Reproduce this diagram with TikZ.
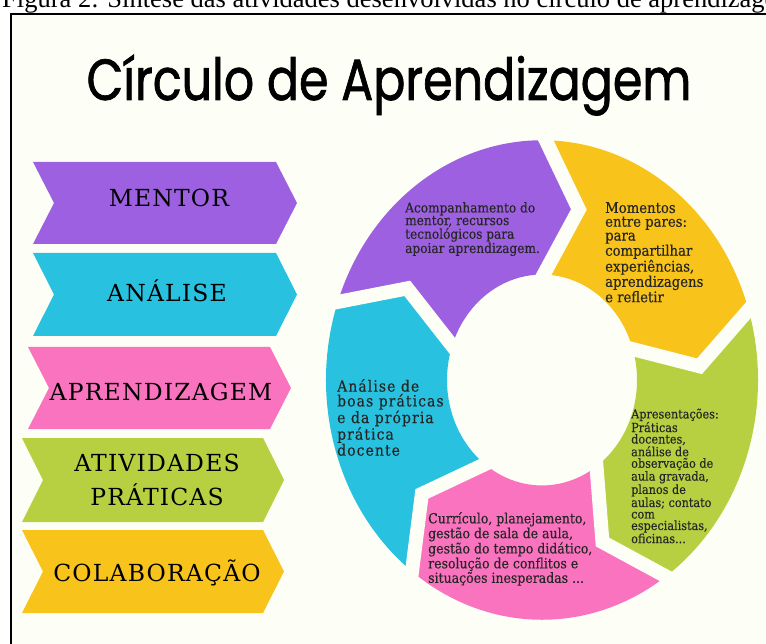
\documentclass[tikz,border=0pt]{standalone}
\usepackage{fontspec}
\usepackage{tikz}
\usetikzlibrary{calc}
\newfontfamily\captionfont{Liberation Serif}
\newfontfamily\titlefont[FakeStretch=0.82, FakeBold=1.2]{Poppins}
\newfontfamily\bandfont[LetterSpace=5]{DejaVu Serif}
\newfontfamily\ringfont[FakeStretch=0.9, FakeBold=0.3]{DejaVu Serif}
\definecolor{paper}{HTML}{FDFEF6}
\definecolor{mentorc}{HTML}{9D60E1}
\definecolor{analisec}{HTML}{28C1DF}
\definecolor{aprendc}{HTML}{FA73BF}
\definecolor{ativc}{HTML}{B6D042}
\definecolor{colabc}{HTML}{F8C31A}
\definecolor{inkc}{HTML}{262626}
\newcommand{\OuterR}{216}
\newcommand{\InnerR}{95}
\newcommand{\MidR}{158}

\begin{document}
\begin{tikzpicture}[x=1pt, y=-1pt,
    band/.style = {anchor = base, inner sep = 0pt, font = \bandfont\fontsize{23.5}{34}\selectfont, align = center},
    ringtext/.style = {anchor = north west, inner sep = 0pt, align = left, text = inkc},
    gapline/.style = {draw = paper, line width = 14pt, line join = miter}]
    \useasboundingbox (0, 0) rectangle (766, 644);
    \clip (0, 0) rectangle (766, 644);

    % page and frame
    \fill[white] (0, 0) rectangle (766, 644);
    \fill[paper] (11, 14) rectangle (790, 670);
    \draw[line width = 2pt] (11, 670) -- (11, 14) -- (790, 14);

    % caption and title
    \node[anchor = base west, inner sep = 0pt, font = \captionfont\fontsize{26.5}{30}\selectfont] (caption) at (2, 8)
        {Figura 2: Síntese das atividades desenvolvidas no círculo de aprendizagem};
    \node[anchor = base, inner sep = 0pt, font = \titlefont\fontsize{58}{66}\selectfont] (title) at (389, 100)
        {Círculo de Aprendizagem};

    % draw left bands
    \fill[mentorc] (33, 162) -- (276, 162) -- (297, 203) -- (276, 244) -- (33, 244) -- (54, 203) -- cycle;
    \fill[analisec] (33, 253) -- (276, 253) -- (297, 294.5) -- (276, 336) -- (33, 336) -- (54, 294.5) -- cycle;
    \fill[aprendc] (28, 347) -- (270, 347) -- (291, 388) -- (270, 429) -- (28, 429) -- (49, 388) -- cycle;
    \fill[ativc] (22, 438) -- (263, 438) -- (284, 480) -- (263, 522) -- (22, 522) -- (43, 480) -- cycle;
    \fill[colabc] (22, 530) -- (263, 530) -- (284, 571.5) -- (263, 613) -- (22, 613) -- (43, 571.5) -- cycle;

    \node[band] (mentor) at (169, 207) {MENTOR};
    \node[band] (analise) at (167, 302) {ANÁLISE};
    \node[band] (aprend) at (161, 400) {APRENDIZAGEM};
    \node[band, anchor = center] (ativ) at (157, 480) {ATIVIDADES\\PRÁTICAS};
    \node[band] (colab) at (157, 581) {COLABORAÇÃO};

    % draw ring parts
    \begin{scope}[shift = {(542, 380)}, y = 1pt, yscale = 1.11]
        \foreach \from/\to/\col in {161/89/mentorc, 89/17/colabc, 17/-55/ativc, -55/-127/aprendc, 233/161/analisec}
            \fill[\col] (\from:\OuterR) arc[start angle = \from, end angle = \to, radius = \OuterR]
                -- (\to-12.5:\MidR) -- (\to:\InnerR)
                arc[start angle = \to, end angle = \from, radius = \InnerR]
                -- (\from-12.5:\MidR) -- cycle;
        \foreach \b in {161, 89, 17, -55, -127}
            \draw[gapline] ($(\b-12.5:\MidR)!1.35!(\b:\OuterR)$) -- (\b-12.5:\MidR)
                -- ($(\b-12.5:\MidR)!1.6!(\b:\InnerR)$);
    \end{scope}

    % ring texts
    \node[ringtext, font = \ringfont\fontsize{13.5}{12.6}\selectfont] (mentortext) at (405, 202)
        {Acompanhamento do\\mentor, recursos\\tecnológicos para\\apoiar aprendizagem.};
    \node[ringtext, font = \ringfont\fontsize{14.7}{13.8}\selectfont] (colabtext) at (605, 202)
        {Momentos\\entre pares:\\para\\compartilhar\\experiências,\\aprendizagens\\e refletir};
    \node[ringtext, font = \ringfont\fontsize{12.5}{11.5}\selectfont] (ativtext) at (631, 408.5)
        {Apresentações:\\Práticas\\docentes,\\análise de\\observação de\\aula gravada,\\planos de\\aulas; contato\\com\\especialistas,\\oficinas...};
    \node[ringtext, font = \ringfont\fontsize{13.9}{12.8}\selectfont] (aprendtext) at (428, 512)
        {Currículo, planejamento,\\gestão de sala de aula,\\gestão do tempo didático,\\resolução de conflitos e\\situações inesperadas ...};
    \node[ringtext, font = \ringfont\addfontfeature{LetterSpace=7}\fontsize{15.5}{14.8}\selectfont] (analisetext) at (337, 379)
        {Análise de\\boas práticas\\e da própria\\prática\\docente};
\end{tikzpicture}
\end{document}
